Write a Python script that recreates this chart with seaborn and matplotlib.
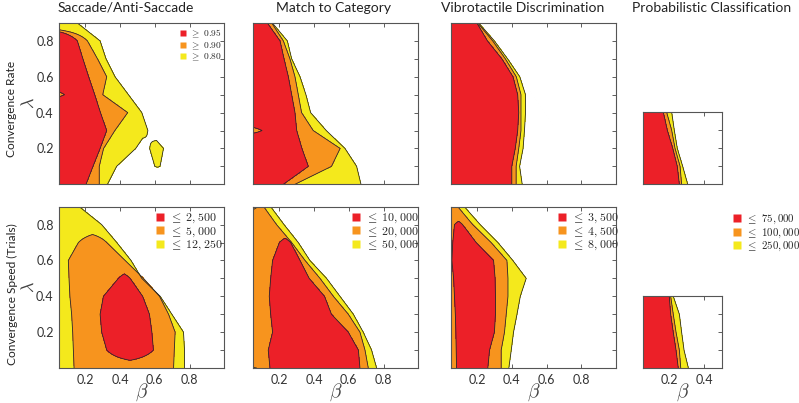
import numpy as np
import matplotlib
matplotlib.use('Agg')
import matplotlib.pyplot as plt
from matplotlib.lines import Line2D
import seaborn as sns

sns.set_theme(style='white')
plt.rcParams['font.family'] = ['Lato', 'DejaVu Sans']
plt.rcParams['mathtext.fontset'] = 'cm'

RED, ORANGE, YELLOW = '#ec2028', '#f7941e', '#f4e91c'

# lambda rows of the parameter grid (bottom -> top)
lam_full = [0.0, 0.1, 0.2, 0.3, 0.4, 0.5, 0.6, 0.7, 0.8, 0.9]
lam_short = [0.0, 0.1, 0.2, 0.3, 0.4]

# beta extent (left, right) of each region per lambda row; left 0 = touches axis edge
# --- Convergence rate ---
saccade_rate_red = [(0, .204), (0, .244), (0, .285), (0, .323), (0, .287), (.08, .254), (0, .219), (0, .186), (0, .154), None]
saccade_rate_orange = [(0, .28), (0, .28), (0, .305), (0, .37), (0, .444), (0, .30), (0, .323), (0, .27), (0, .212), None]
saccade_rate_yellow = [(0, .327), [(0, .38), (.60, .63)], [(0, .49), (.57, .65)], (0, .56), (0, .525), (0, .448), (0, .371), (0, .319), (0, .285), (0, .154)]

match_rate_red = [(0, .223), (0, .367), (0, .33), (.10, .30), (0, .29), (0, .271), (0, .252), (0, .227), (0, .204), (0, .131)]
match_rate_orange = [(0, .29), (0, .50), (0, .55), (0, .395), (0, .328), (0, .309), (0, .29), (0, .261), (0, .223), (0, .156)]
match_rate_yellow = [(0, .67), (0, .645), (0, .578), (0, .47), (0, .38), (0, .353), (0, .319), (0, .271), (0, .246), (0, .16)]

vibro_rate_red = [(0, .40), (0, .40), (0, .42), (0, .434), (0, .44), (0, .434), (0, .407), (0, .343), (0, .26), (0, .199)]
vibro_rate_orange = [(0, .425), (0, .425), (0, .44), (0, .453), (0, .453), (0, .453), (0, .426), (0, .363), (0, .29), (0, .204)]
vibro_rate_yellow = [(0, .46), (0, .445), (0, .465), (0, .473), (0, .479), (0, .479), (0, .446), (0, .376), (0, .30), (0, .21)]

prob_rate_red = [(0, .257), (0, .245), (0, .219), (0, .188), (0, .165)]
prob_rate_orange = [(0, .27), (0, .261), (0, .232), (0, .213), (0, .184)]
prob_rate_yellow = [(0, .305), (0, .276), (0, .245), (0, .228), (0, .213)]

# --- Convergence speed (trials) ---
saccade_speed_red = [None, (.323, .592), (.294, .583), (.285, .569), (.304, .53), (.39, .458), None, None, None, None]
saccade_speed_orange = [(.135, .708), (.131, .712), (.127, .717), (.121, .679), (.111, .627), (.106, .535), (.102, .429), (.16, .323), None, None]
saccade_speed_yellow = [(0, .771), (0, .771), (0, .765), (0, .698), (0, .631), (0, .525), (0, .463), (0, .381), (0, .294), (0, .165)]

match_speed_red = [(.146, .664), (.136, .655), (.161, .597), (.15, .50), (.142, .46), (.15, .372), (.161, .319), (.2, .265), None, None]
match_speed_orange = [(.07, .712), (0, .693), (0, .664), (0, .597), (0, .511), (0, .434), (0, .348), (0, .271), (0, .184), (.075, .11)]
match_speed_yellow = [(0, .76), (0, .731), (0, .683), (0, .626), (0, .549), (0, .472), (0, .376), (0, .309), (0, .227), (0, .15)]

vibro_speed_red = [(.082, .262), (.08, .272), (.078, .30), (.075, .306), (.07, .306), (.065, .304), (.055, .295), (.06, .195), (.07, .117), None]
vibro_speed_orange = [(0, .339), (0, .339), (0, .358), (0, .368), (0, .378), (0, .378), (0, .372), (0, .281), (0, .175), (0, .089)]
vibro_speed_yellow = [(0, .383), (0, .397), (0, .41), (0, .43), (0, .449), (0, .483), (0, .406), (0, .32), (0, .218), (0, .127)]

prob_speed_red = [(0, .251), (0, .238), (0, .222), (0, .207), (0, .199)]
prob_speed_orange = [(0, .265), (0, .257), (0, .238), (0, .222), (0, .207)]
prob_speed_yellow = [(0, .309), (0, .284), (0, .27), (0, .257), (0, .222)]

titles = ['Saccade/Anti-Saccade', 'Match to Category', 'Vibrotactile Discrimination', 'Probabilistic Classification']
rate_labels = [r'$\geq\ 0.95$', r'$\geq\ 0.90$', r'$\geq\ 0.80$']
speed_labels = [
    [r'$\leq\ 2,500$', r'$\leq\ 5,000$', r'$\leq\ 12,250$'],
    [r'$\leq\ 10,000$', r'$\leq\ 20,000$', r'$\leq\ 50,000$'],
    [r'$\leq\ 3,500$', r'$\leq\ 4,500$', r'$\leq\ 8,000$'],
    [r'$\leq\ 75,000$', r'$\leq\ 100,000$', r'$\leq\ 250,000$'],
]

beta_grid = np.linspace(0.05, 1.0, 191)


def band_field(rows, lam):
    # signed distance to the region edge along beta, one row per lambda
    z = np.full((len(lam), len(beta_grid)), -0.1)
    for i, row in enumerate(rows):
        if row is None:
            continue
        parts = row if isinstance(row, list) else [row]
        d = np.full(len(beta_grid), -np.inf)
        for lo, hi in parts:
            lo = -1.0 if lo == 0 else lo
            d = np.maximum(d, np.minimum(beta_grid - lo, hi - beta_grid))
        z[i] = d
    return z


def draw_panel(ax, red, orange, yellow, lam):
    for rows, col in [(yellow, YELLOW), (orange, ORANGE), (red, RED)]:
        z = band_field(rows, lam)
        ax.contourf(beta_grid, lam, z, levels=[0, 5], colors=[col])
        ax.contour(beta_grid, lam, z, levels=[0], colors='#2a2a2a', linewidths=0.6)


W, H = 799, 403
fig = plt.figure(figsize=(W / 100, H / 100), dpi=100)


def px_axes(left, top, width, height):
    return fig.add_axes([left / W, 1 - (top + height) / H, width / W, height / H])


lefts = [59.3, 253.3, 451, 643.3]
rate_sets = [
    (saccade_rate_red, saccade_rate_orange, saccade_rate_yellow),
    (match_rate_red, match_rate_orange, match_rate_yellow),
    (vibro_rate_red, vibro_rate_orange, vibro_rate_yellow),
    (prob_rate_red, prob_rate_orange, prob_rate_yellow),
]
speed_sets = [
    (saccade_speed_red, saccade_speed_orange, saccade_speed_yellow),
    (match_speed_red, match_speed_orange, match_speed_yellow),
    (vibro_speed_red, vibro_speed_orange, vibro_speed_yellow),
    (prob_speed_red, prob_speed_orange, prob_speed_yellow),
]


def handles_for(ms):
    return [Line2D([], [], marker='s', linestyle='none', markersize=ms,
                   markerfacecolor=c, markeredgecolor='none') for c in (RED, ORANGE, YELLOW)]


legend_spots = [(155, 212), (351, 212), (557, 212), (733, 213)]
legend_sizes = [8.6, 8.6, 8.6, 7.8]

for j in range(4):
    small = j == 3
    for r, sets in enumerate([rate_sets, speed_sets]):
        if small:
            top = 112.3 if r == 0 else 296.3
            ax = px_axes(lefts[j], top, 78.4, 72)
            lam = lam_short
            ax.set_xlim(0.05, 0.5)
            ax.set_ylim(0, 0.4)
            ax.set_xticks([0.2, 0.4])
            yt = [0.1, 0.2, 0.3]
        else:
            top = 23 if r == 0 else 206.7
            ax = px_axes(lefts[j], top, 165, 161.3)
            lam = lam_full
            ax.set_xlim(0.05, 1.0)
            ax.set_ylim(0, 0.9)
            ax.set_xticks([0.2, 0.4, 0.6, 0.8])
            yt = [0.1, 0.2, 0.3, 0.4, 0.5, 0.6, 0.7, 0.8]
        red, orange, yellow = sets[j]
        draw_panel(ax, red, orange, yellow, lam)
        ax.set_yticks(yt)
        if j == 0:
            ax.set_yticklabels([f'{v:.1f}' if round(v * 10) % 2 == 0 else '' for v in yt])
        else:
            ax.set_yticklabels([])
        if r == 0:
            ax.set_xticklabels([])
        else:
            ax.set_xticklabels([f'{v:.1f}' for v in ax.get_xticks()])
        ax.tick_params(direction='in', top=True, right=True, bottom=True, left=True,
                       length=3, width=0.6, color='#444', labelsize=9,
                       labelcolor='#333', pad=4)
        for s in ax.spines.values():
            s.set_color('#555')
            s.set_linewidth(0.8)

        if r == 0 and j == 0:
            fig.legend(handles_for(4.2), rate_labels, loc='upper left',
                       bbox_to_anchor=(179 / W, 1 - 28 / H), frameon=False,
                       fontsize=6.8, handlelength=0.8, handletextpad=0.4,
                       labelspacing=0.0, borderpad=0, borderaxespad=0)
        if r == 1:
            lx, ly = legend_spots[j]
            fig.legend(handles_for(6), speed_labels[j], loc='upper left',
                       bbox_to_anchor=(lx / W, 1 - ly / H), frameon=False,
                       fontsize=legend_sizes[j], handlelength=0.8, handletextpad=0.4,
                       labelspacing=0.0, borderpad=0, borderaxespad=0)
            cx = lefts[j] + (78.4 if small else 165) / 2
            fig.text(cx / W, 1 - 392 / H, r'$\beta$', ha='center', va='center',
                     fontsize=14, color='#444')

title_x = [126, 333, 523, 712]
for t, x in zip(titles, title_x):
    fig.text(x / W, 1 - 8 / H, t, ha='center', va='center', fontsize=10, color='#222')

fig.text(12 / W, 1 - 109 / H, 'Convergence Rate', rotation=90, ha='center', va='center',
         fontsize=8.6, color='#222')
fig.text(29 / W, 1 - 103 / H, r'$\lambda$', rotation=90, ha='center', va='center',
         fontsize=13, color='#444')
fig.text(12 / W, 1 - 294 / H, 'Convergence Speed (Trials)', rotation=90, ha='center',
         va='center', fontsize=8.6, color='#222')
fig.text(29 / W, 1 - 287 / H, r'$\lambda$', rotation=90, ha='center', va='center',
         fontsize=13, color='#444')

fig.savefig('out.png', dpi=100)
